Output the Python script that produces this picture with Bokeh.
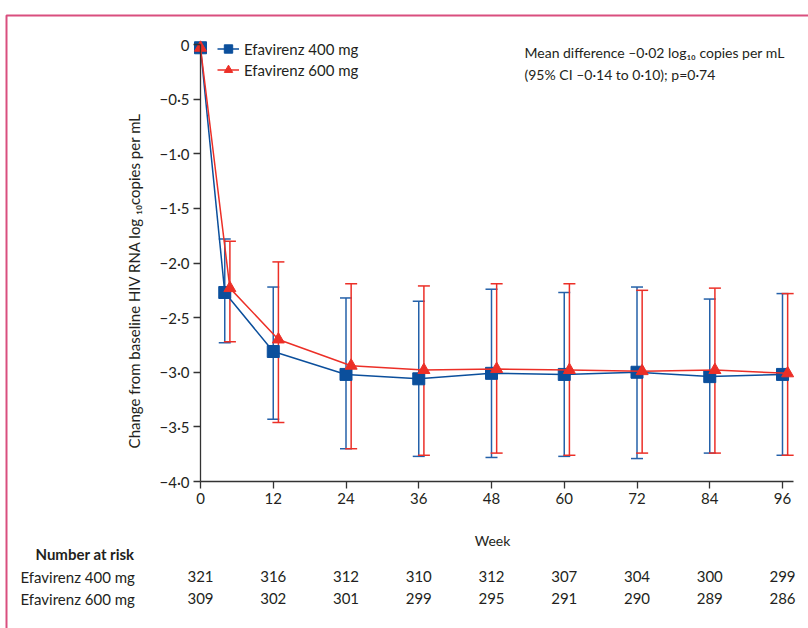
import numpy as np
from bokeh.plotting import figure
from bokeh.models import (ColumnDataSource, Whisker, TeeHead, FixedTicker, Legend, LegendItem,
                          Label, LabelSet, BoxAnnotation, Range1d)
from bokeh.core.properties import value
from bokeh.embed import file_html
from bokeh.resources import INLINE

# ---------------- data ----------------
series_names = ["Efavirenz 400 mg", "Efavirenz 600 mg"]
weeks = [0, 4, 12, 24, 36, 48, 60, 72, 84, 96]
mean_400 = [-0.03, -2.27, -2.81, -3.02, -3.06, -3.01, -3.02, -3.00, -3.04, -3.02]
upper_400 = [np.nan, -1.78, -2.22, -2.32, -2.35, -2.24, -2.27, -2.22, -2.33, -2.28]
lower_400 = [np.nan, -2.73, -3.43, -3.70, -3.77, -3.78, -3.77, -3.79, -3.74, -3.76]
mean_600 = [-0.03, -2.23, -2.70, -2.94, -2.98, -2.97, -2.98, -2.99, -2.98, -3.01]
upper_600 = [np.nan, -1.80, -1.99, -2.19, -2.21, -2.19, -2.19, -2.25, -2.23, -2.28]
lower_600 = [np.nan, -2.72, -3.46, -3.70, -3.76, -3.74, -3.76, -3.74, -3.74, -3.76]

xticks = [0, 12, 24, 36, 48, 60, 72, 84, 96]
yticks = [0, -0.5, -1.0, -1.5, -2.0, -2.5, -3.0, -3.5, -4.0]
ytick_labels = ["0", "\u22120\u00b75", "\u22121\u00b70", "\u22121\u00b75", "\u22122\u00b70",
                "\u22122\u00b75", "\u22123\u00b70", "\u22123\u00b75", "\u22124\u00b70"]

risk_weeks = [0, 12, 24, 36, 48, 60, 72, 84, 96]
risk_400 = [321, 316, 312, 310, 312, 307, 304, 300, 299]
risk_600 = [309, 302, 301, 299, 295, 291, 290, 289, 286]

annotation_lines = ["Mean difference \u20130\u00b702 log\u2081\u2080 copies per mL",
                    "(95% CI \u20130\u00b714 to 0\u00b710); p=0\u00b774"]
y_label = "Change from baseline HIV RNA log \u2081\u2080copies per mL"
x_label = "Week"
risk_title = "Number at risk"

# ---------------- layout / style ----------------
W, H = 808, 628
X0_PX, PX_PER_WEEK = 200.0, 6.0625      # pixel of week 0, pixels per week
Y0_PX, PX_PER_UNIT = 44.0, 109.25       # pixel of y=0, pixels per log unit
x_lo = -X0_PX / PX_PER_WEEK
x_hi = (W - X0_PX) / PX_PER_WEEK
y_hi = Y0_PX / PX_PER_UNIT
y_lo = -(H - Y0_PX) / PX_PER_UNIT

FONT = "Lato"
TXT = "#231f20"
BLUE = "#0b4f9c"
BLUE_ERR = "#2461a9"
RED = "#ec2f27"
DODGE = 0.85   # horizontal dodge of the 600 mg series (follow-up visits)

p = figure(frame_width=W, frame_height=H,
           x_range=Range1d(x_lo, x_hi), y_range=Range1d(y_lo, y_hi),
           min_border=0, output_backend="svg", toolbar_location=None)
p.outline_line_color = None
p.grid.visible = False
p.background_fill_color = "white"
p.border_fill_color = "white"

# axes drawn inside the frame at fixed positions
p.xaxis.ticker = FixedTicker(ticks=xticks)
p.xaxis.bounds = (0, 97.8)
p.xaxis.fixed_location = -4.0
p.yaxis.ticker = FixedTicker(ticks=yticks)
p.yaxis.major_label_overrides = {t: l for t, l in zip(yticks, ytick_labels)}
p.yaxis.bounds = (-4.0, 0.0)
p.yaxis.fixed_location = 0
for ax in (p.xaxis, p.yaxis):
    ax.axis_line_color = "#333333"
    ax.axis_line_width = 1.3
    ax.major_tick_line_color = "#333333"
    ax.major_tick_line_width = 1.3
    ax.major_tick_out = 7
    ax.major_tick_in = 0
    ax.minor_tick_line_color = None
    ax.major_label_text_font = FONT
    ax.major_label_text_font_size = "15px"
    ax.major_label_text_color = TXT
    ax.major_label_standoff = 4

# data sources (600 mg follow-up visits are dodged to the right)
x600 = [w + DODGE if w > 0 else w for w in weeks]
src400 = ColumnDataSource(dict(x=weeks, mean=mean_400))
src600 = ColumnDataSource(dict(x=x600, mean=mean_600))
mask = [not np.isnan(u) for u in upper_400]


def whisker_source(xs, up, lo):
    return ColumnDataSource(dict(x=[v for v, m in zip(xs, mask) if m],
                                 upper=[v for v, m in zip(up, mask) if m],
                                 lower=[v for v, m in zip(lo, mask) if m]))


for src, col in ((whisker_source(weeks, upper_400, lower_400), BLUE_ERR),
                 (whisker_source(x600, upper_600, lower_600), RED)):
    wh = Whisker(source=src, base="x", upper="upper", lower="lower",
                 line_color=col, line_width=1.5,
                 upper_head=TeeHead(size=12, line_color=col, line_width=1.5),
                 lower_head=TeeHead(size=12, line_color=col, line_width=1.5))
    p.add_layout(wh)

l400 = p.line("x", "mean", source=src400, line_color=BLUE, line_width=1.5)
s400 = p.scatter("x", "mean", source=src400, marker="square", size=12,
                 fill_color=BLUE, line_color=BLUE)
l600 = p.line("x", "mean", source=src600, line_color=RED, line_width=1.5)
s600 = p.scatter("x", "mean", source=src600, marker="triangle", size=12,
                 fill_color=RED, line_color=RED)

legend = Legend(items=[LegendItem(label=series_names[0], renderers=[l400, s400]),
                       LegendItem(label=series_names[1], renderers=[l600, s600])],
                location=(217, H - 80), orientation="vertical")
legend.border_line_alpha = 0
legend.background_fill_alpha = 0
legend.padding = 0
legend.margin = 0
legend.spacing = 0
legend.glyph_width = 22
legend.glyph_height = 21
legend.label_height = 21
legend.label_standoff = 5
legend.label_text_font = FONT
legend.label_text_font_size = "15px"
legend.label_text_color = TXT
p.add_layout(legend)


def screen_label(x, y_from_top, text, **kw):
    opts = dict(text_font=FONT, text_font_size="15px", text_color=TXT,
                text_baseline="middle", text_align="left")
    opts.update(kw)
    p.add_layout(Label(x=x, y=H - y_from_top, x_units="screen", y_units="screen",
                       text=text, **opts))


# annotation text
for i, t in enumerate(annotation_lines):
    screen_label(524, 52 + 22 * i, t, text_font_size="14px")

# axis labels
screen_label(133, 280, y_label, angle=np.pi / 2, text_align="center")
screen_label(492, 540, x_label, text_align="center", text_font_size="14px")

# number at risk table
screen_label(35, 553, risk_title, text_font_style="bold")
for i, (name, vals) in enumerate(((series_names[0], risk_400), (series_names[1], risk_600))):
    ytop = 576 + 22 * i
    screen_label(20, ytop, name)
    rsrc = ColumnDataSource(dict(week=risk_weeks, y=[H - ytop] * len(risk_weeks),
                                 txt=[str(v) for v in vals]))
    p.add_layout(LabelSet(x="week", y="y", text="txt", source=rsrc, x_units="data",
                          y_units="screen", text_font=value(FONT), text_font_size="15px",
                          text_color=TXT, text_baseline="middle", text_align="center"))

# pink frame
p.add_layout(BoxAnnotation(left=6, right=W + 50, top=H - 15, bottom=-50,
                           left_units="screen", right_units="screen",
                           top_units="screen", bottom_units="screen",
                           fill_alpha=0, line_color="#d94f7e", line_alpha=1.0,
                           line_width=2))

open("out.html", "w").write(file_html(p, INLINE))
